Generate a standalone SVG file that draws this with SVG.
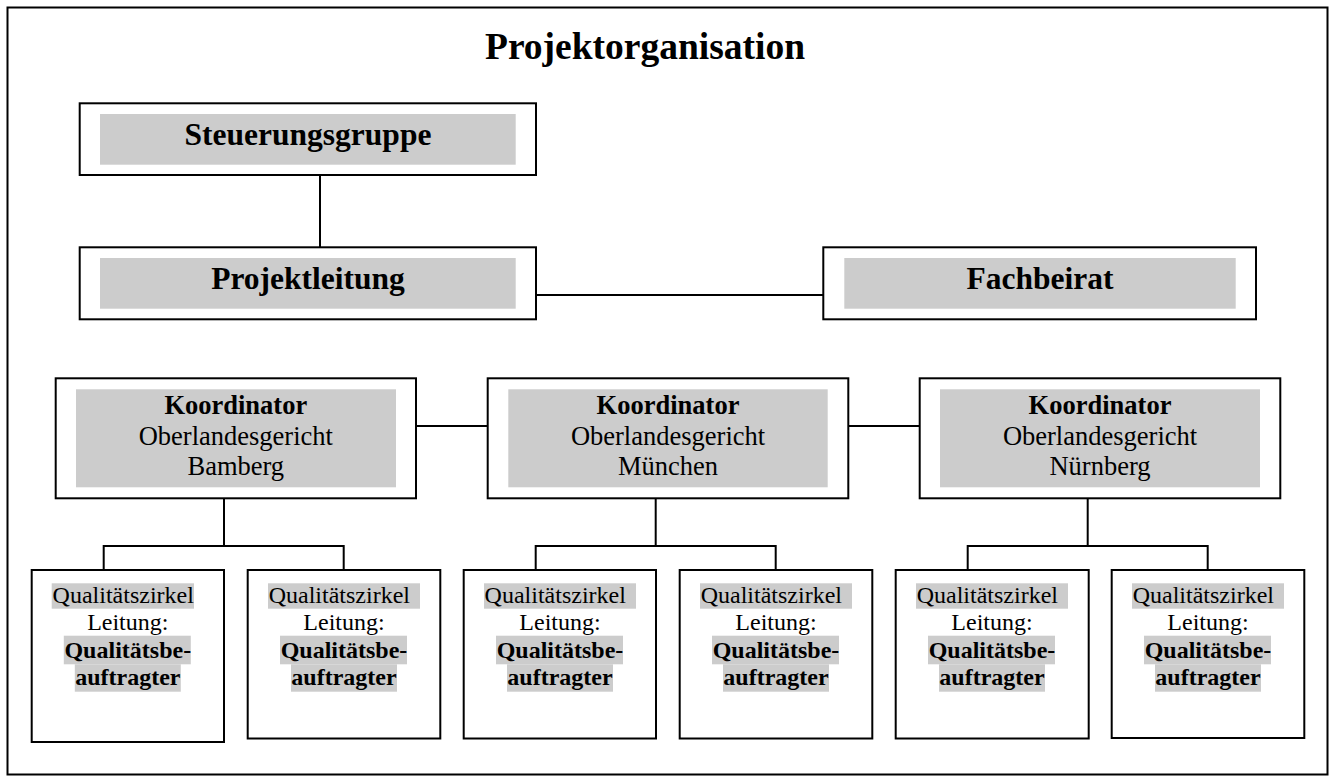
<svg xmlns="http://www.w3.org/2000/svg" width="1332" height="776" viewBox="0 0 1332 776">
<style>
  .box{fill:#fff;stroke:#000;stroke-width:2}
  .hl{fill:#cccccc}
  .t{font-family:"Liberation Serif","Times New Roman",serif;fill:#000}
  .b{font-weight:bold}
  .big{font-size:31.5px;text-anchor:middle;font-weight:bold}
  .k{font-size:26.5px;text-anchor:middle}
  .q{font-size:24px}
  .m{text-anchor:middle}
  .conn line, .conn polyline{stroke:#000;stroke-width:2;fill:none}
</style>
<rect x="0" y="0" width="1332" height="776" fill="#fff"/>
<rect id="frame" x="7.5" y="7.5" width="1320" height="767" fill="none" stroke="#000" stroke-width="2"/>
<text id="title" class="t b" x="485" y="58.5" font-size="37.5">Projektorganisation</text>

<g class="conn" id="connectors">
  <line x1="320" y1="175" x2="320" y2="247.3"/>
  <line x1="536" y1="295" x2="823.3" y2="295"/>
  <line x1="416" y1="426" x2="487.7" y2="426"/>
  <line x1="848.3" y1="426" x2="919.7" y2="426"/>
  <line x1="224" y1="498.3" x2="224" y2="546"/>
  <polyline points="103.7,570 103.7,546 343.7,546 343.7,570"/>
  <line x1="655.7" y1="498.3" x2="655.7" y2="546"/>
  <polyline points="535.7,570 535.7,546 775.7,546 775.7,570"/>
  <line x1="1087.7" y1="498.3" x2="1087.7" y2="546"/>
  <polyline points="967.7,570 967.7,546 1207.7,546 1207.7,570"/>
</g>

<g id="steuerungsgruppe">
  <rect class="box" x="79.7" y="103.3" width="456.3" height="71.7"/>
  <rect class="hl" x="100" y="114" width="415.7" height="50.7"/>
  <text class="t big" x="308" y="145">Steuerungsgruppe</text>
</g>
<g id="projektleitung">
  <rect class="box" x="79.7" y="247.3" width="456.3" height="72"/>
  <rect class="hl" x="100" y="258" width="415.7" height="50.7"/>
  <text class="t big" x="308" y="288.5">Projektleitung</text>
</g>
<g id="fachbeirat">
  <rect class="box" x="823.3" y="247.3" width="432.7" height="72"/>
  <rect class="hl" x="844.3" y="258" width="391.4" height="50.7"/>
  <text class="t big" x="1040" y="289">Fachbeirat</text>
</g>

<g id="koord-bamberg">
  <rect class="box" x="55.7" y="378.3" width="360.3" height="120"/>
  <rect class="hl" x="76" y="389.3" width="320" height="98"/>
  <text class="t k b" x="235.8" y="414">Koordinator</text>
  <text class="t k" x="235.8" y="444.5">Oberlandesgericht</text>
  <text class="t k" x="235.8" y="475">Bamberg</text>
</g>
<g id="koord-muenchen">
  <rect class="box" x="487.7" y="378.3" width="360.6" height="120"/>
  <rect class="hl" x="508.3" y="389.3" width="319.4" height="98"/>
  <text class="t k b" x="668" y="414">Koordinator</text>
  <text class="t k" x="668" y="444.5">Oberlandesgericht</text>
  <text class="t k" x="668" y="475">München</text>
</g>
<g id="koord-nuernberg">
  <rect class="box" x="919.7" y="378.3" width="360.6" height="120"/>
  <rect class="hl" x="940" y="389.3" width="320" height="98"/>
  <text class="t k b" x="1100" y="414">Koordinator</text>
  <text class="t k" x="1100" y="444.5">Oberlandesgericht</text>
  <text class="t k" x="1100" y="475">Nürnberg</text>
</g>

<g id="qz-bamberg-1">
  <rect class="box" x="31.7" y="570" width="192.3" height="172"/>
  <rect class="hl" x="51.7" y="583.3" width="142.3" height="25.4"/>
  <rect class="hl" x="63.8" y="635.7" width="127" height="28.6"/>
  <rect class="hl" x="74.8" y="664.3" width="106" height="27.4"/>
  <text class="t q" x="52.6" y="603">Qualitätszirkel</text>
  <text class="t q m" x="127.8" y="630">Leitung:</text>
  <text class="t q m b" x="127.8" y="658">Qualitätsbe-</text>
  <text class="t q m b" x="127.8" y="685">auftragter</text>
</g>
<g id="qz-bamberg-2">
  <rect class="box" x="247.7" y="570" width="192.6" height="168.5"/>
  <rect class="hl" x="268" y="583.3" width="152" height="25.4"/>
  <rect class="hl" x="280" y="635.7" width="127" height="28.6"/>
  <rect class="hl" x="291" y="664.3" width="106" height="27.4"/>
  <text class="t q" x="268.7" y="603">Qualitätszirkel</text>
  <text class="t q m" x="344" y="630">Leitung:</text>
  <text class="t q m b" x="344" y="658">Qualitätsbe-</text>
  <text class="t q m b" x="344" y="685">auftragter</text>
</g>
<g id="qz-muenchen-1">
  <rect class="box" x="463.7" y="570" width="192.3" height="168.5"/>
  <rect class="hl" x="484" y="583.3" width="152" height="25.4"/>
  <rect class="hl" x="496" y="635.7" width="127" height="28.6"/>
  <rect class="hl" x="507" y="664.3" width="106" height="27.4"/>
  <text class="t q" x="484.6" y="603">Qualitätszirkel</text>
  <text class="t q m" x="560" y="630">Leitung:</text>
  <text class="t q m b" x="560" y="658">Qualitätsbe-</text>
  <text class="t q m b" x="560" y="685">auftragter</text>
</g>
<g id="qz-muenchen-2">
  <rect class="box" x="679.7" y="570" width="192.6" height="168.5"/>
  <rect class="hl" x="700" y="583.3" width="152" height="25.4"/>
  <rect class="hl" x="712" y="635.7" width="127" height="28.6"/>
  <rect class="hl" x="723" y="664.3" width="106" height="27.4"/>
  <text class="t q" x="700.7" y="603">Qualitätszirkel</text>
  <text class="t q m" x="776" y="630">Leitung:</text>
  <text class="t q m b" x="776" y="658">Qualitätsbe-</text>
  <text class="t q m b" x="776" y="685">auftragter</text>
</g>
<g id="qz-nuernberg-1">
  <rect class="box" x="895.7" y="570" width="193" height="168.5"/>
  <rect class="hl" x="916" y="583.3" width="152" height="25.4"/>
  <rect class="hl" x="928" y="635.7" width="127" height="28.6"/>
  <rect class="hl" x="939" y="664.3" width="106" height="27.4"/>
  <text class="t q" x="916.7" y="603">Qualitätszirkel</text>
  <text class="t q m" x="992" y="630">Leitung:</text>
  <text class="t q m b" x="992" y="658">Qualitätsbe-</text>
  <text class="t q m b" x="992" y="685">auftragter</text>
</g>
<g id="qz-nuernberg-2">
  <rect class="box" x="1111.7" y="570" width="192.6" height="168"/>
  <rect class="hl" x="1132" y="583.3" width="152" height="25.4"/>
  <rect class="hl" x="1144" y="635.7" width="127" height="28.6"/>
  <rect class="hl" x="1155" y="664.3" width="106" height="27.4"/>
  <text class="t q" x="1132.7" y="603">Qualitätszirkel</text>
  <text class="t q m" x="1208" y="630">Leitung:</text>
  <text class="t q m b" x="1208" y="658">Qualitätsbe-</text>
  <text class="t q m b" x="1208" y="685">auftragter</text>
</g>
</svg>
